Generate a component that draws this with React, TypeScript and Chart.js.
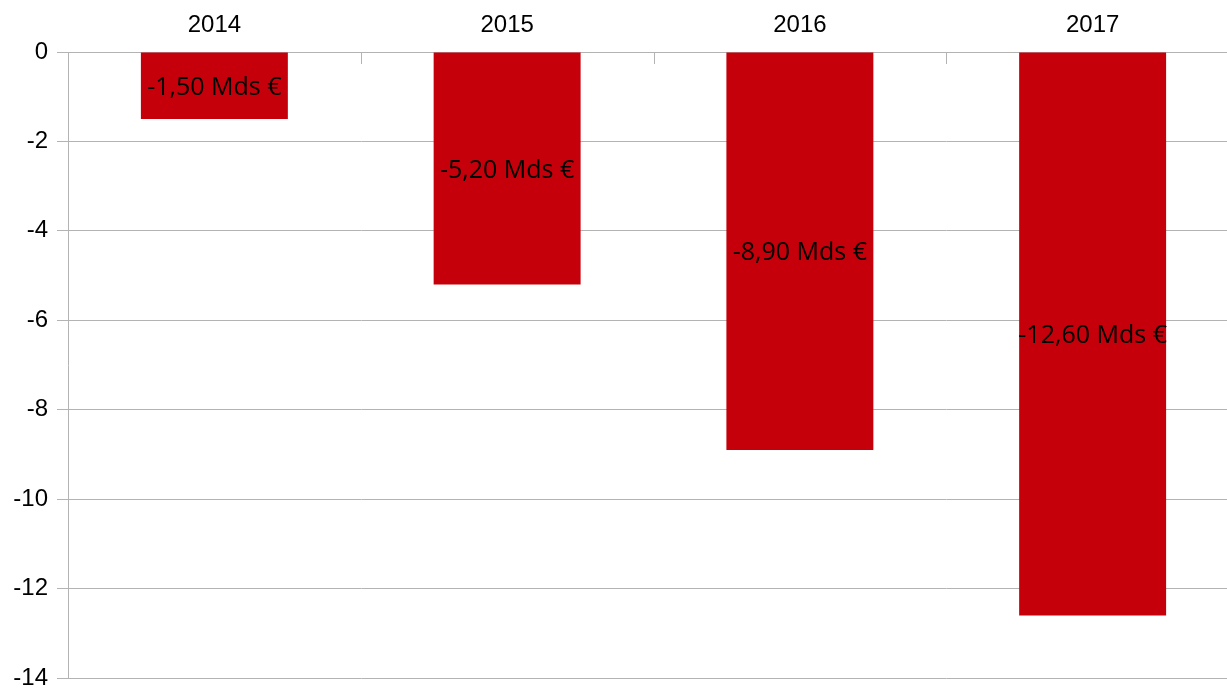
import React, { useEffect, useRef } from "react";
import { Chart, registerables } from "chart.js";

Chart.register(...registerables);

const categories: string[] = ["2014", "2015", "2016", "2017"];
const values: number[] = [-1.5, -5.2, -8.9, -12.6];
const yMin = -14;
const yMax = 0;
const yStep = 2;
const unitSuffix = " Mds €";

const BAR_COLOR = "#c5000b";
const GRID_COLOR = "#b3b3b3";
const TICK_FONT = "'Liberation Sans', Arial, sans-serif";
const LABEL_FONT = "'Open Sans', 'Noto Sans', sans-serif";

function formatValue(v: number): string {
  return v.toFixed(2).replace(".", ",") + unitSuffix;
}

const innerTicksPlugin = {
  id: "innerTicks",
  afterDraw(chart: any) {
    const x = chart.scales.x;
    const area = chart.chartArea;
    const ctx = chart.ctx;
    ctx.save();
    ctx.strokeStyle = GRID_COLOR;
    ctx.lineWidth = 1;
    for (let i = 1; i < categories.length; i++) {
      const px = Math.round((x.getPixelForValue(i - 1) + x.getPixelForValue(i)) / 2) + 0.5;
      ctx.beginPath();
      ctx.moveTo(px, area.top);
      ctx.lineTo(px, area.top + 12);
      ctx.stroke();
    }
    ctx.restore();
  },
};

const barLabelsPlugin = {
  id: "barLabels",
  afterDatasetsDraw(chart: any) {
    const ctx = chart.ctx;
    const meta = chart.getDatasetMeta(0);
    ctx.save();
    ctx.font = `25px ${LABEL_FONT}`;
    ctx.fillStyle = "#000000";
    ctx.textAlign = "center";
    ctx.textBaseline = "middle";
    meta.data.forEach((bar: any, i: number) => {
      const props = bar.getProps(["x", "y", "base"], true);
      const cy = (props.y + props.base) / 2 + 2;
      ctx.fillText(formatValue(values[i]), props.x, cy);
    });
    ctx.restore();
  },
};

export default function App() {
  const canvasRef = useRef<HTMLCanvasElement | null>(null);

  useEffect(() => {
    if (!canvasRef.current) return;
    const chart = new Chart(canvasRef.current, {
      type: "bar",
      data: {
        labels: categories,
        datasets: [
          {
            data: values,
            backgroundColor: BAR_COLOR,
            borderWidth: 0,
            categoryPercentage: 1,
            barPercentage: 0.502,
          },
        ],
      },
      plugins: [innerTicksPlugin, barLabelsPlugin],
      options: {
        animation: false,
        responsive: false,
        devicePixelRatio: 1,
        layout: { padding: { top: 0, left: 0, right: 1, bottom: 12 } },
        plugins: {
          legend: { display: false },
          tooltip: { enabled: false },
          title: { display: false },
        },
        scales: {
          x: {
            position: "top",
            grid: { display: false, drawTicks: false },
            border: { display: false },
            ticks: {
              color: "#000000",
              font: { family: TICK_FONT, size: 24 },
              padding: 12,
              maxRotation: 0,
            },
            afterFit(scale: any) {
              scale.height = 52;
              scale.paddingLeft = 0;
              scale.paddingRight = 0;
            },
          },
          y: {
            min: yMin,
            max: yMax,
            grid: {
              color: GRID_COLOR,
              lineWidth: 1,
              tickLength: 11,
              drawTicks: true,
            },
            border: { display: true, color: GRID_COLOR, width: 1 },
            ticks: {
              stepSize: yStep,
              color: "#000000",
              font: { family: TICK_FONT, size: 24 },
              padding: 9,
            },
            afterFit(scale: any) {
              scale.width = 68;
              scale.paddingTop = 0;
              scale.paddingBottom = 0;
            },
          },
        },
      },
    });
    return () => chart.destroy();
  }, []);

  return (
    <div
      style={{
        position: "fixed",
        left: 0,
        top: 0,
        width: 1227,
        height: 690,
        overflow: "hidden",
        background: "#ffffff",
      }}
    >
      <canvas ref={canvasRef} width={1240} height={690} style={{ display: "block" }} />
    </div>
  );
}
